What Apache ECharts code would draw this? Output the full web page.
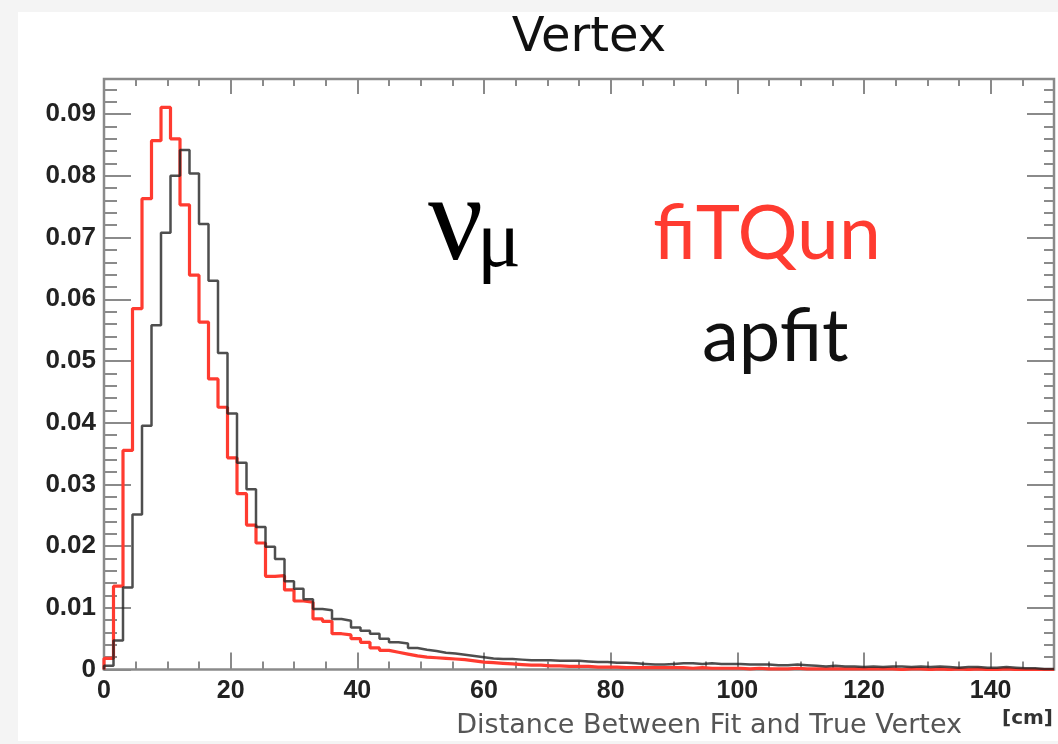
<!DOCTYPE html>
<html>
<head>
<meta charset="utf-8">
<script src="https://cdn.jsdelivr.net/npm/echarts@6/dist/echarts.min.js"></script>
<style>
html,body{margin:0;padding:0;background:#f4f4f4;}
#chart{width:1058px;height:744px;}
</style>
</head>
<body>
<div id="chart"></div>
<script>
// Histogram: 100 bins of 1.5 cm from 0 to 150 cm
const binWidth = 1.5;
const xRange = [0, 150];
const yRange = [0, 0.0957];
const xTickLabels = ['0', '20', '40', '60', '80', '100', '120', '140'];
const yTickLabels = ['0', '0.01', '0.02', '0.03', '0.04', '0.05', '0.06', '0.07', '0.08', '0.09'];

// fiTQun (red)
const fitqunValues = [
0.0018,0.0135,0.0355,0.0585,0.0763,0.0857,0.0911,0.0860,0.0753,0.0639,
0.0563,0.0471,0.0425,0.0343,0.0285,0.0234,0.0205,0.0151,0.0152,0.0129,
0.0111,0.0109,0.0082,0.0078,0.0058,0.0056,0.0050,0.0044,0.0035,0.0031,
0.0028,0.0025,0.0022,0.0020,0.0019,0.0018,0.0017,0.0016,0.0014,0.0012,
0.0011,0.0010,0.0009,0.0008,0.0007,0.0007,0.0006,0.0006,0.0005,0.0005,
0.0005,0.0004,0.0004,0.0004,0.0003,0.0003,0.0003,0.0003,0.0003,0.0003,
0.0003,0.0002,0.0003,0.0002,0.0002,0.0002,0.0002,0.0001,0.0002,0.0001,
0.0001,0.0001,0.0002,0.0001,0.0001,0.0001,0.0001,0.0001,0.0001,0.0001,
0.0001,0.0001,0.0001,0.0000,0.0001,0.0001,0.0000,0.0001,0.0000,0.0001,
0.0000,0.0001,0.0000,0.0000,0.0001,0.0000,0.0000,0.0000,0.0000,0.0000];

// apfit (black)
const apfitValues = [
0.0006,0.0047,0.0133,0.0251,0.0395,0.0558,0.0708,0.0800,0.0842,0.0804,
0.0722,0.0630,0.0513,0.0415,0.0335,0.0292,0.0231,0.0199,0.0179,0.0143,
0.0131,0.0114,0.0098,0.0096,0.0082,0.0079,0.0068,0.0063,0.0058,0.0050,
0.0044,0.0042,0.0035,0.0032,0.0030,0.0027,0.0026,0.0024,0.0022,0.0020,
0.0018,0.0017,0.0017,0.0016,0.0015,0.0015,0.0015,0.0014,0.0014,0.0014,
0.0013,0.0012,0.0012,0.0011,0.0011,0.0010,0.0009,0.0008,0.0008,0.0009,
0.0010,0.0010,0.0009,0.0010,0.0009,0.0009,0.0009,0.0008,0.0008,0.0008,
0.0007,0.0007,0.0008,0.0007,0.0006,0.0005,0.0006,0.0005,0.0005,0.0004,
0.0005,0.0004,0.0005,0.0005,0.0004,0.0005,0.0004,0.0005,0.0004,0.0003,
0.0004,0.0004,0.0003,0.0003,0.0004,0.0003,0.0002,0.0002,0.0001,0.0001];

function toSteps(vals) {
  const pts = [[xRange[0], 0]];
  vals.forEach((v, i) => pts.push([xRange[0] + i * binWidth, v]));
  pts.push([xRange[0] + vals.length * binWidth, vals[vals.length - 1]]);
  return pts;
}

const chart = echarts.init(document.getElementById('chart'), null, {renderer: 'canvas'});
const tickStyle = {color: '#8a8a8a', width: 2};
function xAx(pos, interval, len, labels) {
  return {
    type: 'value', min: xRange[0], max: xRange[1], interval: interval, position: pos,
    axisLine: {show: false, onZero: false},
    splitLine: {show: false},
    axisTick: {show: true, inside: true, length: len, lineStyle: tickStyle},
    axisLabel: labels ? {
      show: true, showMaxLabel: false, margin: 9,
      fontFamily: 'Liberation Sans', fontSize: 25, fontWeight: 'bold', color: '#222',
      formatter: v => { const i = Math.round(v / 20); return xTickLabels[i] !== undefined ? xTickLabels[i] : ''; }
    } : {show: false}
  };
}
function yAx(pos, interval, len, labels) {
  return {
    type: 'value', min: yRange[0], max: yRange[1], interval: interval, position: pos,
    axisLine: {show: false, onZero: false},
    splitLine: {show: false},
    axisTick: {show: true, inside: true, length: len, lineStyle: tickStyle},
    axisLabel: labels ? {
      show: true, showMaxLabel: false, margin: 8, padding: [8, 0, 0, 0],
      fontFamily: 'Liberation Sans', fontSize: 26, fontWeight: 'bold', color: '#222',
      formatter: v => { const i = Math.round(v / 0.01); return yTickLabels[i] !== undefined ? yTickLabels[i] : ''; }
    } : {show: false}
  };
}

chart.setOption({
  backgroundColor: '#f4f4f4',
  animation: false,
  grid: {left: 104, top: 79, width: 950, height: 590.5, show: true,
         borderColor: '#8a8a8a', borderWidth: 2.5, backgroundColor: 'transparent'},
  xAxis: [xAx('bottom', 20, 17, true), xAx('bottom', 5, 8, false), xAx('top', 20, 15, false), xAx('top', 5, 7, false)],
  yAxis: [yAx('left', 0.01, 27, true), yAx('left', 0.002, 13, false), yAx('right', 0.01, 27, false), yAx('right', 0.002, 10, false)],
  graphic: [
    {type: 'rect', z: -100, silent: true, shape: {x: 18, y: 12, width: 1040, height: 729}, style: {fill: '#ffffff'}},
    {type: 'text', z: 100, x: 589, y: 39, style: {text: 'Vertex', fontFamily: 'DejaVu Sans', fontSize: 48, fill: '#111', textAlign: 'center', textVerticalAlign: 'middle'}},
    {type: 'text', z: 100, x: 962, y: 726, style: {text: 'Distance Between Fit and True Vertex', fontFamily: 'DejaVu Sans', fontSize: 27, fill: '#555', textAlign: 'right', textVerticalAlign: 'middle'}},
    {type: 'text', z: 100, x: 1053, y: 719, style: {text: '[cm]', fontFamily: 'DejaVu Sans', fontSize: 20, fontWeight: 'bold', fill: '#333', textAlign: 'right', textVerticalAlign: 'middle'}},
    {type: 'text', z: 100, x: 428, y: 166, style: {text: 'ν', fontFamily: 'Liberation Serif', fontSize: 122, fill: '#000', textAlign: 'left', textVerticalAlign: 'top'}},
    {type: 'text', z: 100, x: 477, y: 203, style: {text: 'μ', fontFamily: 'Liberation Serif', fontSize: 82, fill: '#000', textAlign: 'left', textVerticalAlign: 'top'}},
    {type: 'text', z: 100, x: 653, y: 197, style: {text: 'fiTQun', fontFamily: 'Lato', fontSize: 75, fill: '#ff3b30', textAlign: 'left', textVerticalAlign: 'top'}},
    {type: 'text', z: 100, x: 702, y: 300, style: {text: 'apfit', fontFamily: 'Lato', fontSize: 74, fill: '#111', textAlign: 'left', textVerticalAlign: 'top'}}
  ],
  series: [
    {name: 'fiTQun', type: 'line', step: 'end', xAxisIndex: 0, yAxisIndex: 0, symbol: 'none', z: 3,
     lineStyle: {color: '#ff3b30', width: 3.2}, data: toSteps(fitqunValues)},
    {name: 'apfit', type: 'line', step: 'end', xAxisIndex: 0, yAxisIndex: 0, symbol: 'none', z: 4,
     lineStyle: {color: '#222', width: 2.5, opacity: 0.8}, data: toSteps(apfitValues)}
  ]
});
</script>
</body>
</html>
